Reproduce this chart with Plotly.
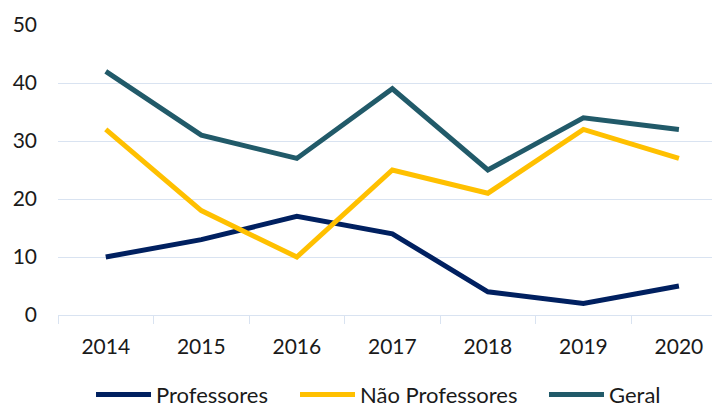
import plotly.graph_objects as go

anos = ["2014", "2015", "2016", "2017", "2018", "2019", "2020"]
professores = [10, 13, 17, 14, 4, 2, 5]
nao_professores = [32, 18, 10, 25, 21, 32, 27]
geral = [42, 31, 27, 39, 25, 34, 32]

series = [
    ("Professores", professores, "#002060", "legend"),
    ("Não Professores", nao_professores, "#FFC000", "legend2"),
    ("Geral", geral, "#215A69", "legend3"),
]
legend_x = [0.1166, 0.4031, 0.7528]

fig = go.Figure()
for name, vals, color, leg in series:
    fig.add_trace(go.Scatter(x=anos, y=vals, name=name, mode="lines", legend=leg,
                             line=dict(color=color, width=5)))

grid = "#D9E3F1"
font = dict(family="Lato", size=21, color="#1a1a1a")
legfont = dict(family="Lato", size=22, color="#1a1a1a")


def leg(x):
    return dict(orientation="h", xref="container", yref="container", x=x, xanchor="left",
                y=0.033, yanchor="middle", font=legfont, itemwidth=55,
                bgcolor="rgba(0,0,0,0)")


fig.update_layout(
    width=712, height=400,
    margin=dict(l=50, r=0, t=17, b=93),
    paper_bgcolor="white", plot_bgcolor="white",
    font=font,
    showlegend=True,
    legend=leg(legend_x[0]),
    legend2=leg(legend_x[1]),
    legend3=leg(legend_x[2]),
    xaxis=dict(type="category", range=[-0.5, 6.43], tickson="boundaries",
               ticks="outside", ticklen=8, tickcolor=grid, showline=True,
               linecolor=grid, linewidth=1, showgrid=False, ticklabelstandoff=13,
               fixedrange=True, automargin=False),
    yaxis=dict(range=[0, 50], dtick=10, showgrid=True, gridcolor=grid, gridwidth=1,
               zeroline=False, showline=False, ticks="", ticklabelstandoff=20,
               fixedrange=True, automargin=False),
)
fig.write_html("out.html")
